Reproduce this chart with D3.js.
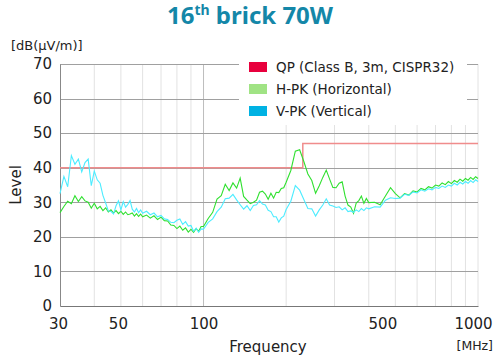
<!DOCTYPE html>
<html><head><meta charset="utf-8">
<script src="https://cdn.jsdelivr.net/npm/d3@7"></script>
<style>body{margin:0;background:#fff} svg{display:block;font-family:"DejaVu Sans",sans-serif}</style>
</head><body><svg id="c" width="500" height="360"></svg>
<script>
const freqs = [30,31,32,33,34,35,36,37,38,39,40,41,42,43,44,45,46,47,48,49,50,51,52,53,54,55,56,57,58,59,60,
  62,64,66,68,70,72,74,76,78,80,82,84,86,88,90,92,94,96,98,100,
  104,108,112,116,120,124,128,132,136,140,144,148,152,156,160,164,168,172,176,180,184,188,192,196,200,
  208,216,224,232,240,248,256,264,272,280,288,296,304,312,320,328,336,344,352,360,368,376,384,392,400,
  420,440,460,480,500,520,540,560,580,600,620,640,660,680,700,720,740,760,780,800,820,840,860,880,900,920,940,960,980,1000];
const hpk = [27,28.8,30.3,29.6,31.9,30.2,31.6,30.4,30,28.3,29.7,28.1,28.8,27.6,28.4,27.2,27.8,26.9,27.6,26.7,27.4,26.5,27.2,26.4,26.6,26.9,26,26.7,25.9,26.6,25.8,
  26.3,25.4,26.1,25,25.7,24.7,24.6,23.4,23.3,22.4,23.1,21.9,22.6,21.4,22.2,21.3,22.4,21.6,23,23,
  25.3,27.1,30.9,31.9,35.2,33.4,35.6,34.1,37,31.7,30.6,29.6,30,30.6,32.9,33.2,32.4,30.9,32.6,31.2,32.9,32.8,34,34.2,35.8,
  39.2,44.8,45.2,41.8,38.2,36.3,32.6,34.8,37.2,39.3,36.7,34.3,34.2,35.5,35.9,31.8,29.2,28.6,26.8,29.8,30.5,31.8,29.7,31.1,29.9,
  30,29.3,31.8,34.2,32.5,31.3,32.5,32.1,33.3,33,34,33.6,34.5,34.1,35,34.7,35.6,35.1,36,35.4,36.3,35.8,36.7,36.1,36.9,36.4,37.2,36.6,37.4,36.9];
const vpk = [32.5,37.5,34.5,43.5,41,42.5,38.8,41.5,42.5,34.8,39,36.5,35.5,32,29.8,27.5,27.4,26.6,29,30.4,27.8,30.2,28.6,29.4,30.5,28,27.2,28.2,27,27.8,26.8,
  27.4,26.4,26.9,25.8,26.2,25.2,25,24.2,24.1,24.8,25.2,23.6,24.4,23.1,23.3,21.6,22.5,21.3,22.3,22.2,
  24.2,25.2,27.3,28.6,31,31.2,32.3,30.7,29.3,28,29,27.6,29.1,29.3,30.5,29.5,29.2,27.7,27.3,25.8,25.8,24.3,25.5,26,27.9,
  30.3,34.8,33.5,30.8,28.2,28.1,26,27.8,29.2,31,29.2,28.9,28.5,28.7,27.8,28.4,27.3,27.5,27.1,27.8,27.3,28.2,27.6,28.4,28.1,
  28.7,28.6,30.6,31.3,31.1,31.2,32.3,32,33,32.7,33.6,33.2,33.9,33.6,34.3,34,34.7,34.3,35,34.7,35.5,35,35.8,35.3,36,35.5,36.3,35.7,36.5,36];
const limitFreqs = [30,230,230,1000];
const limitVals = [40,40,47,47];
const yTicks = [0,10,20,30,40,50,60,70];
const xTickLabels = [30,50,100,500,1000];
const xMinorGrid = [40,50,60,70,80,90,200,300,400,500,600,700,800,900,1000];
const xMajorGrid = [100];
const legendNames = ["QP (Class B, 3m, CISPR32)","H-PK (Horizontal)","V-PK (Vertical)"];
const legendColors = ["#e8003d","#a0e384","#00b2e3"];

const svg = d3.select("#c");
const L=60,R=478,T=64,B=306;
const x = d3.scaleLog().domain([30,1000]).range([L,R]);
const y = d3.scaleLinear().domain([0,70]).range([B,T]);

// title
const title = svg.append("text").attr("x",250).attr("y",24).attr("text-anchor","middle")
  .attr("font-family","'Noto Sans',sans-serif").attr("font-weight","bold").attr("font-size",24).attr("fill","#1487a8");
title.append("tspan").text("16");
title.append("tspan").attr("font-size",14).attr("dy",-9).text("th");
title.append("tspan").attr("dy",9).text(" brick 70W");

svg.append("text").attr("x",11).attr("y",50).attr("font-size",13).attr("fill","#222").text("[dB(μV/m)]");

// grid
const g = svg.append("g");
g.selectAll(".vmin").data(xMinorGrid).join("line")
  .attr("x1",d=>x(d)).attr("x2",d=>x(d)).attr("y1",T).attr("y2",B)
  .attr("stroke","#e2e2e2").attr("stroke-width",1);
g.selectAll(".vmaj").data(xMajorGrid).join("line")
  .attr("x1",d=>x(d)).attr("x2",d=>x(d)).attr("y1",T).attr("y2",B)
  .attr("stroke","#bdbdbd").attr("stroke-width",1);
g.selectAll(".h").data(yTicks.filter(d=>d>0)).join("line")
  .attr("x1",L).attr("x2",R).attr("y1",d=>Math.round(y(d))+0.5).attr("y2",d=>Math.round(y(d))+0.5)
  .attr("stroke","#a0a0a0").attr("stroke-width",1);

// axes
const yAxis = d3.axisLeft(y).tickValues(yTicks).tickSize(0).tickPadding(8);
const ya = svg.append("g").attr("transform",`translate(${L},0)`).call(yAxis);
ya.select(".domain").attr("stroke","#888");
ya.selectAll("text").attr("font-size",15).attr("fill","#222").attr("font-family","'DejaVu Sans',sans-serif");

const labelShift = {30:-2,50:-3,100:0,500:-13,1000:-5};
const xAxis = d3.axisBottom(x).tickValues(xTickLabels).tickFormat(d3.format("d")).tickSize(0).tickPadding(12);
const xa = svg.append("g").attr("transform",`translate(0,${B})`).call(xAxis);
xa.select(".domain").attr("stroke","#777");
xa.selectAll("text").attr("font-size",15).attr("fill","#222").attr("font-family","'DejaVu Sans',sans-serif")
  .attr("dx",d=>labelShift[d]||0);

svg.append("text").attr("transform","translate(21,185) rotate(-90)").attr("text-anchor","middle")
  .attr("font-size",15).attr("fill","#222").text("Level");
svg.append("text").attr("x",268).attr("y",352).attr("text-anchor","middle")
  .attr("font-size",15).attr("fill","#222").text("Frequency");
svg.append("text").attr("x",493).attr("y",350).attr("text-anchor","end")
  .attr("font-size",12.5).attr("fill","#222").text("[MHz]");

// legend background
const leg = svg.append("g");
leg.append("rect").attr("x",239).attr("y",52).attr("width",228).attr("height",73).attr("fill","#fff");

// series
const lineGen = d3.line().x(d=>x(d[0])).y(d=>y(d[1]));
svg.append("path").datum(limitFreqs.map((f,i)=>[f,limitVals[i]])).attr("d",lineGen)
  .attr("fill","none").attr("stroke","#f08c8c").attr("stroke-width",1.5);
svg.append("path").datum(freqs.map((f,i)=>[f,hpk[i]])).attr("d",lineGen)
  .attr("fill","none").attr("stroke","#2fe02f").attr("stroke-width",1.1);
svg.append("path").datum(freqs.map((f,i)=>[f,vpk[i]])).attr("d",lineGen)
  .attr("fill","none").attr("stroke","#4cecff").attr("stroke-width",1.1);

// legend items
const items = leg.selectAll(".li").data(legendNames).join("g")
  .attr("transform",(d,i)=>`translate(249,${62+i*22})`);
items.append("rect").attr("width",18).attr("height",10).attr("fill",(d,i)=>legendColors[i]);
items.append("text").attr("x",27).attr("y",10).attr("font-size",13.5).attr("fill","#222").text(d=>d);
</script></body></html>
